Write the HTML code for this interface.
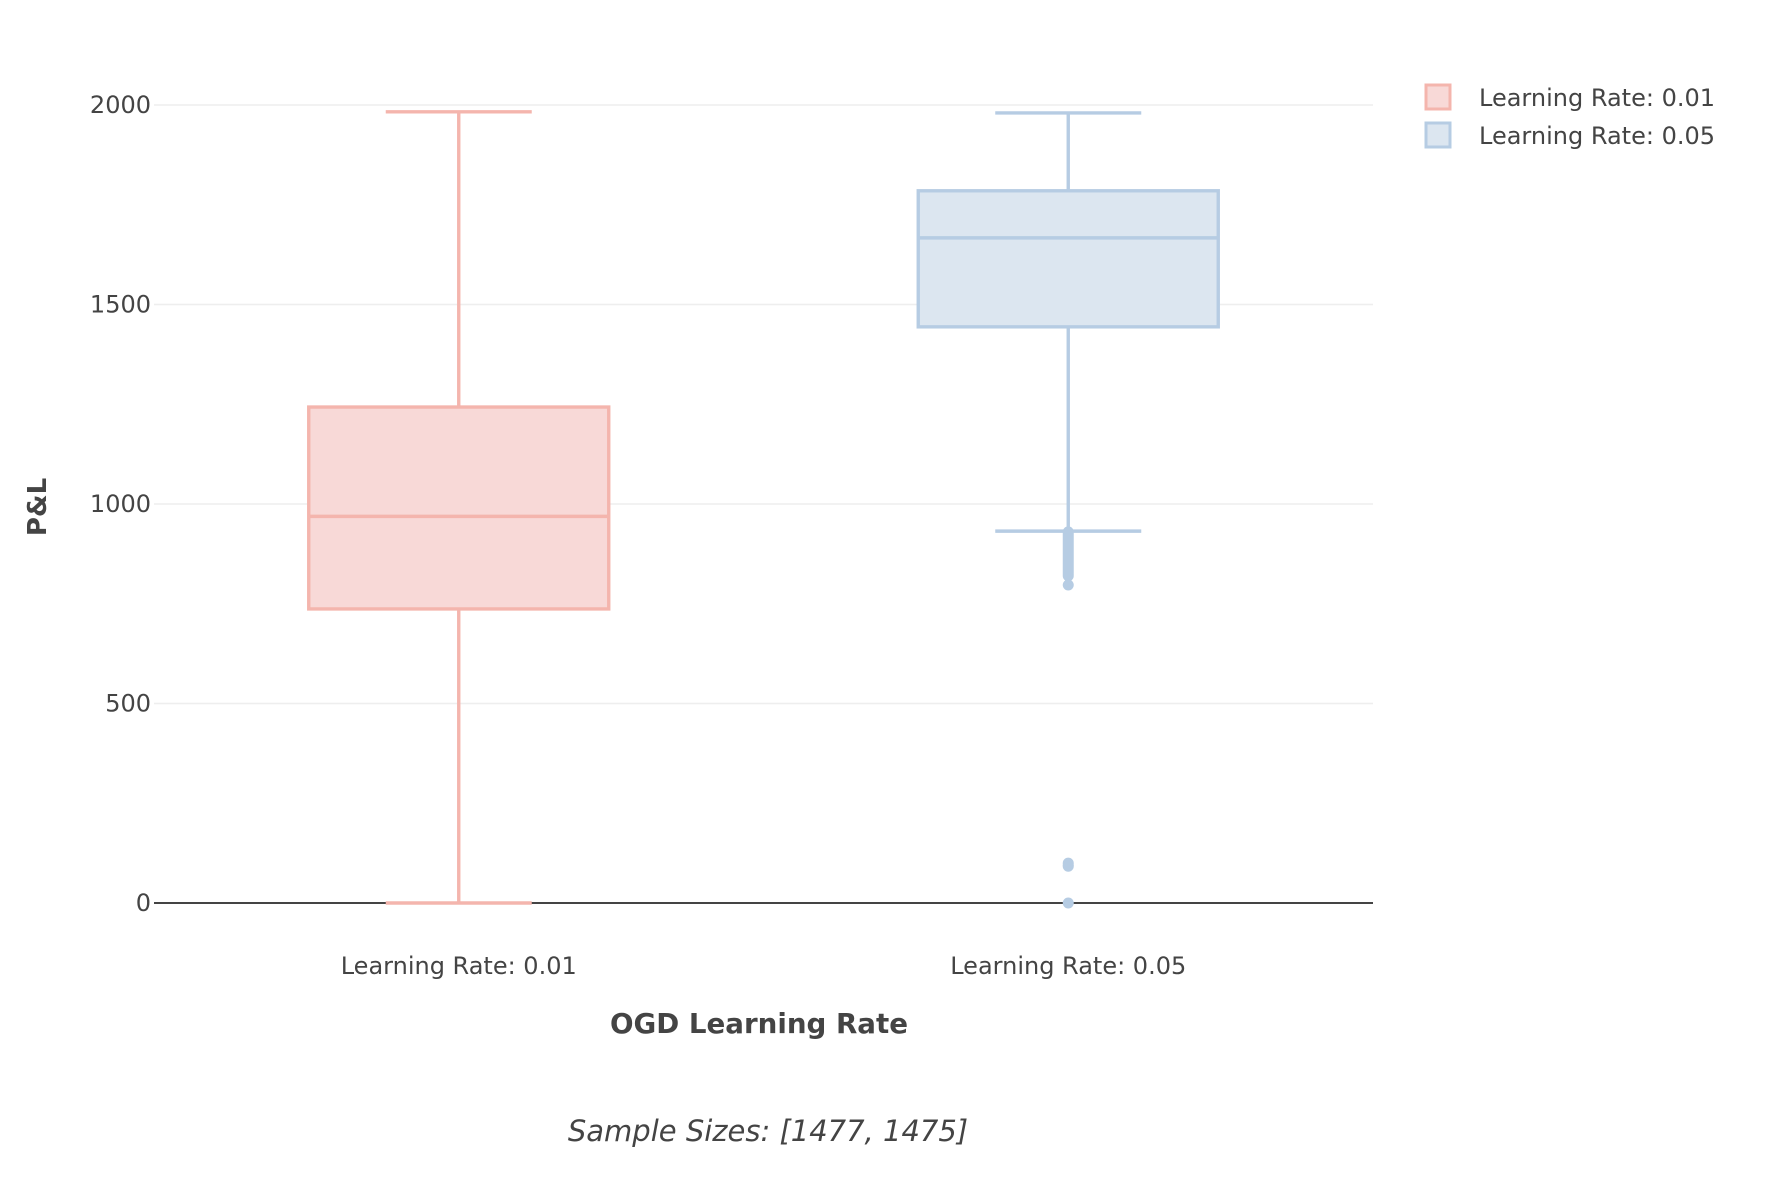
<!DOCTYPE html>
<html><head><meta charset="utf-8"><style>
html,body{margin:0;padding:0;background:#fff;}
svg{display:block;font-family:"DejaVu Sans","Liberation Sans",sans-serif;}
</style></head><body>
<svg id="chart" width="1768" height="1200" viewBox="0 0 1768 1200">
<g id="grid"></g>
<g id="boxes"></g>
<g id="yticks"></g>
<g id="xticks"></g>
<text x="759" y="1033" text-anchor="middle" font-size="27.7" font-weight="bold" fill="#444">OGD Learning Rate</text>
<text transform="translate(46,507) rotate(-90)" text-anchor="middle" font-size="26" font-weight="bold" fill="#444">P&amp;L</text>
<text x="768" y="1141" text-anchor="middle" font-size="29" font-style="italic" fill="#444">Sample Sizes: [1477, 1475]</text>
<g>
<g>
<rect x="1426" y="85" width="24" height="24" fill="#f8d9d7" stroke="#f4b5ad" stroke-width="3"/>
<text x="1479" y="106" font-size="24" fill="#444">Learning Rate: 0.01</text></g>
<g>
<rect x="1426" y="123" width="24" height="24" fill="#dce6f0" stroke="#b6cce3" stroke-width="3"/>
<text x="1479" y="144" font-size="24" fill="#444">Learning Rate: 0.05</text></g>
</g>
</svg>
<script>
const categories = ["Learning Rate: 0.01", "Learning Rate: 0.05"];
const lowerFence = [0, 932];
const q1 = [737, 1444];
const median = [969, 1667];
const q3 = [1243, 1785];
const upperFence = [1983, 1980];
const outliers0 = [];
const outliers1 = [930, 925, 920, 915, 910, 905, 900, 895, 890, 885, 880, 875, 870, 865, 860, 855, 850, 845, 840, 835, 830, 825, 820, 797, 100, 95, 92, 0];
const yTicks = [0, 500, 1000, 1500, 2000];
const yTickLabels = ["0", "500", "1000", "1500", "2000"];

const NS = "http://www.w3.org/2000/svg";
const plotL = 154, plotR = 1373, y0 = 903, y2000 = 105;
const yScale = v => y0 + (y2000 - y0) * v / 2000;
const band = (plotR - plotL) / categories.length;
const xScale = i => plotL + band * (i + 0.5);
const strokes = ["#f4b5ad", "#b6cce3"];
const fills = ["#f8d9d7", "#dce6f0"];
const outs = [outliers0, outliers1];
function mk(tag, attrs, parent) {
  const e = document.createElementNS(NS, tag);
  for (const k in attrs) e.setAttribute(k, attrs[k]);
  parent.appendChild(e);
  return e;
}
const grid = document.getElementById("grid");
const yt = document.getElementById("yticks");
yTicks.forEach((v, i) => {
  const y = yScale(v);
  const l = mk("line", {x1: plotL, x2: plotR, y1: y, y2: y, stroke: v === 0 ? "#444" : "#eee", "stroke-width": v === 0 ? 2 : 1.5}, grid);
  
  
  const t = mk("text", {x: 151, y: y + 8, "text-anchor": "end", "font-size": 24, fill: "#444"}, yt);
  
  
  t.textContent = yTickLabels[i];
});
const xt = document.getElementById("xticks");
const boxes = document.getElementById("boxes");
const halfW = 150, capW = 73;
categories.forEach((c, i) => {
  const cx = xScale(i);
  const t = mk("text", {x: cx, y: 974, "text-anchor": "middle", "font-size": 24, fill: "#444"}, xt);
  
  
  t.textContent = c;
  const g = mk("g", {stroke: strokes[i], "stroke-width": 3.4, fill: "none"}, boxes);
  
  
  mk("line", {x1: cx, x2: cx, y1: yScale(upperFence[i]), y2: yScale(q3[i])}, g);
  mk("line", {x1: cx, x2: cx, y1: yScale(q1[i]), y2: yScale(lowerFence[i])}, g);
  mk("line", {x1: cx - capW, x2: cx + capW, y1: yScale(upperFence[i]), y2: yScale(upperFence[i])}, g);
  mk("line", {x1: cx - capW, x2: cx + capW, y1: yScale(lowerFence[i]), y2: yScale(lowerFence[i])}, g);
  mk("rect", {x: cx - halfW, y: yScale(q3[i]), width: 2 * halfW, height: yScale(q1[i]) - yScale(q3[i]), fill: fills[i]}, g);
  mk("line", {x1: cx - halfW, x2: cx + halfW, y1: yScale(median[i]), y2: yScale(median[i])}, g);
  outs[i].forEach(v => {
    const p = mk("circle", {cx: cx, cy: yScale(v), r: 5.5, fill: strokes[i], stroke: "none"}, boxes);
    
    
  });
});
</script>
</body></html>
